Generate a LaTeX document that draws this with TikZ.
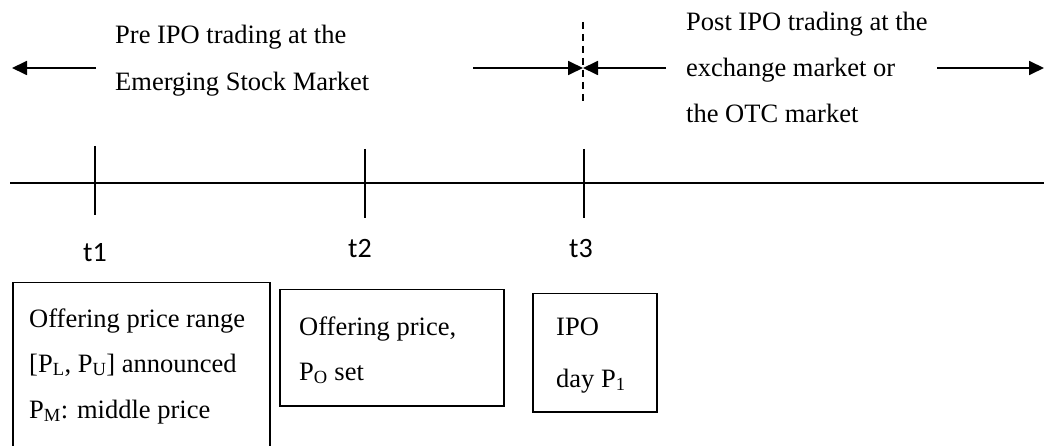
\documentclass[tikz,border=0pt]{standalone}
\usepackage{fontspec}
\setmainfont{Liberation Serif}
\newfontfamily\lblfont{Carlito}
\usetikzlibrary{arrows.meta}
\begin{document}
\begin{tikzpicture}[x=1pt,y=-1pt,
  txt/.style={anchor=base west, inner sep=0pt, font=\fontsize{26.5}{30}\selectfont},
  tlbl/.style={anchor=base, inner sep=0pt, font=\lblfont\fontsize{28}{30}\selectfont},
  arr/.style={line width=1.8pt, -{Triangle[length=15pt,width=14pt]}},
  tick/.style={line width=1.6pt},
  boxn/.style={draw, line width=1.5pt, anchor=north west, inner sep=0pt}]
\useasboundingbox (0,0) rectangle (1044,446);
% top texts
\node[txt] (pre1) at (115,44) {Pre IPO trading at the};
\node[txt] (pre2) at (115,91) {Emerging Stock Market};
\node[txt] (post1) at (686,31) {Post IPO trading at the};
\node[txt] (post2) at (686,77) {exchange market or};
\node[txt] (post3) at (686,123) {the OTC market};
% arrows
\coordinate (la0) at (96,68);
\coordinate (la1) at (12,68);
\coordinate (ma0) at (473,68);
\coordinate (mid) at (583,68);
\coordinate (mb0) at (666,68);
\coordinate (ra0) at (937,68);
\coordinate (ra1) at (1044,68);
\draw[arr] (la0) -- (la1);
\draw[arr] (ma0) -- (mid);
\draw[arr] (mb0) -- (mid);
\draw[arr] (ra0) -- (ra1);
\coordinate (d0) at (583,22);
\coordinate (d1) at (583,101);
\draw[line width=1.5pt, dash pattern=on 7pt off 5pt] (d0) -- (d1);
% timeline
\coordinate (tl0) at (10,183);
\coordinate (tl1) at (1044,183);
\draw[line width=1.6pt] (tl0) -- (tl1);
\coordinate (k1a) at (95,146); \coordinate (k1b) at (95,215);
\coordinate (k2a) at (365,149); \coordinate (k2b) at (365,218);
\coordinate (k3a) at (584,149); \coordinate (k3b) at (584,218);
\draw[tick] (k1a) -- (k1b);
\draw[tick] (k2a) -- (k2b);
\draw[tick] (k3a) -- (k3b);
\node[tlbl] (t1) at (95,262) {t1};
\node[tlbl] (t2) at (360,258) {t2};
\node[tlbl] (t3) at (581,258) {t3};
% boxes
\node[boxn, minimum width=257pt, minimum height=170pt] (b1) at (12,282) {};
\node[boxn, minimum width=224pt, minimum height=116pt] (b2) at (279,289) {};
\node[boxn, minimum width=124pt, minimum height=118pt] (b3) at (532,293) {};
\node[txt] (b1l1) at (29,327) {Offering price range};
\node[txt] (b1l2) at (29,372) {[P\textsubscript{L}, P\textsubscript{U}] announced};
\node[txt] (b1l3) at (29,418) {P\textsubscript{M}: middle price};
\node[txt] (b2l1) at (299,335) {Offering price,};
\node[txt] (b2l2) at (299,380) {P\textsubscript{O} set};
\node[txt] (b3l1) at (556,335) {IPO};
\node[txt] (b3l2) at (556,387) {day P\textsubscript{1}};
\end{tikzpicture}
\end{document}
